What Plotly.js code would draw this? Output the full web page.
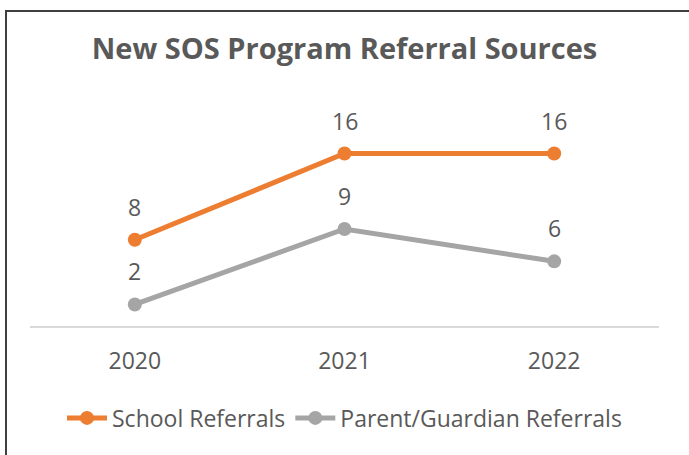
<!DOCTYPE html>
<html>
<head>
<meta charset="utf-8">
<script src="https://cdn.plot.ly/plotly-3.0.1.min.js"></script>
<style>
html,body{margin:0;padding:0;background:#fff;}
#wrap{position:relative;width:689px;height:455px;overflow:hidden;}
#chart{position:absolute;left:0;top:0;width:689px;height:455px;}
#frame{position:absolute;left:5px;top:10px;width:700px;height:460px;border-left:2px solid #3f3f3f;border-top:2px solid #3f3f3f;pointer-events:none;}
</style>
</head>
<body>
<div id="wrap"><div id="chart"></div><div id="frame"></div></div>
<script>
const years = ["2020", "2021", "2022"];
const schoolReferrals = [8, 16, 16];
const parentReferrals = [2, 9, 6];
const seriesNames = ["School Referrals", "Parent/Guardian Referrals"];
const chartTitle = "New SOS Program Referral Sources";

const orange = "#ED7D31";
const gray = "#A5A5A5";
const textColor = "#595959";
const font = "'Open Sans', 'Noto Sans', sans-serif";

const traces = [
  {x: years, y: schoolReferrals, name: seriesNames[0], type: "scatter", mode: "lines+markers",
   line: {color: orange, width: 5}, marker: {color: orange, size: 14}},
  {x: years, y: parentReferrals, name: seriesNames[1], type: "scatter", mode: "lines+markers",
   line: {color: gray, width: 5}, marker: {color: gray, size: 14}}
];

const annotations = [];
[schoolReferrals, parentReferrals].forEach(function(vals){
  vals.forEach(function(v, i){
    annotations.push({x: i, y: v, xref: "x", yref: "y", text: String(v), showarrow: false,
      yshift: 33, font: {family: font, size: 23, color: textColor}});
  });
});

const layout = {
  width: 689, height: 455,
  margin: {l: 30, r: 30, t: 132, b: 129},
  paper_bgcolor: "#fff", plot_bgcolor: "#fff",
  title: {text: "<b>" + chartTitle + "</b>", x: 0.5, xanchor: "center", y: 0.893, yanchor: "middle",
          font: {family: font, size: 29, color: textColor}},
  xaxis: {type: "category", range: [-0.5, 2.5], showgrid: false, zeroline: false,
          showline: true, linecolor: "#D9D9D9", linewidth: 2, ticks: "",
          tickfont: {family: font, size: 23, color: textColor}, ticklabelstandoff: 13},
  yaxis: {range: [0, 18], showgrid: false, zeroline: false, showticklabels: false, showline: false, ticks: ""},
  showlegend: true,
  legend: {orientation: "h", x: 0.5, xanchor: "center", y: -0.474, yanchor: "middle",
           font: {family: font, size: 23, color: textColor}, itemwidth: 40},
  annotations: annotations
};

Plotly.newPlot("chart", traces, layout, {displayModeBar: false, staticPlot: true});
</script>
</body>
</html>
